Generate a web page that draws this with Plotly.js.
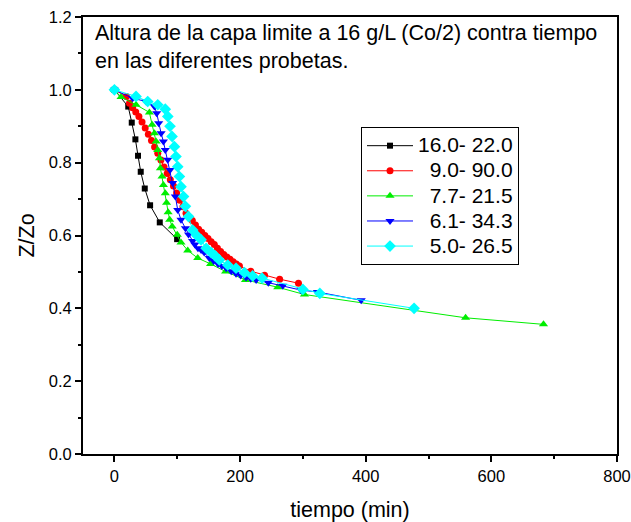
<!DOCTYPE html>
<html>
<head>
<meta charset="utf-8">
<script src="https://cdn.plot.ly/plotly-3.0.1.min.js"></script>
<style>html,body{margin:0;padding:0;background:#fff;}#chart{width:631px;height:522px;}</style>
</head>
<body>
<div id="chart"></div>
<script>
// Series names
const seriesNames = ["16.0- 22.0", "9.0- 90.0", "7.7- 21.5", "6.1- 34.3", "5.0- 26.5"];

// 16.0- 22.0 (black squares)
const tBlack = [0, 22, 27.6, 33.4, 37.6, 41.9, 48.3, 56.8, 72.2, 99.8];
const zBlack = [1.0, 0.954, 0.910, 0.864, 0.819, 0.775, 0.729, 0.683, 0.636, 0.590];

// 9.0- 90.0 (red circles)
const tRed = [0, 19, 24, 29, 34, 39, 44, 49, 54, 59, 64, 69, 74, 79, 84, 89, 94, 99, 104, 109, 114, 119, 124, 129, 134, 139, 144, 149, 154, 159, 164, 169, 174, 179, 184, 189, 194, 199, 217, 239, 263, 293];
const zRed = [1.0, 0.982, 0.963, 0.951, 0.939, 0.927, 0.912, 0.895, 0.878, 0.861, 0.843, 0.826, 0.807, 0.788, 0.770, 0.753, 0.736, 0.717, 0.697, 0.679, 0.661, 0.651, 0.641, 0.629, 0.617, 0.609, 0.600, 0.592, 0.583, 0.575, 0.565, 0.556, 0.548, 0.541, 0.535, 0.528, 0.522, 0.516, 0.502, 0.491, 0.480, 0.469];

// 7.7- 21.5 (green triangles up)
const tGreen = [0, 10.6, 34.4, 55.7, 60, 63.7, 66.4, 69, 71.7, 73.2, 75.8, 78, 81, 83, 85.5, 88, 92, 100, 106, 116.7, 132.6, 153, 177, 208.6, 260, 302.5, 559, 683];
const zGreen = [1.0, 0.980, 0.959, 0.938, 0.904, 0.881, 0.858, 0.835, 0.812, 0.785, 0.762, 0.739, 0.716, 0.690, 0.664, 0.643, 0.625, 0.602, 0.581, 0.559, 0.538, 0.522, 0.501, 0.478, 0.458, 0.438, 0.374, 0.356];

// 6.1- 34.3 (blue triangles down)
const tBlue = [0, 29, 50.4, 63.7, 67.3, 70.5, 74.3, 78, 81, 84.9, 88.5, 92.7, 97, 100.8, 106, 113, 118, 124.5, 128, 133, 138, 143, 151, 158, 165, 171, 178, 186, 193.6, 201, 209.6, 217, 225.6, 245, 268, 297, 323, 392.8];
const zBlue = [1.0, 0.977, 0.968, 0.954, 0.936, 0.908, 0.881, 0.858, 0.835, 0.808, 0.780, 0.744, 0.707, 0.670, 0.643, 0.620, 0.603, 0.585, 0.575, 0.565, 0.560, 0.553, 0.538, 0.530, 0.522, 0.516, 0.510, 0.502, 0.495, 0.490, 0.485, 0.481, 0.478, 0.470, 0.462, 0.450, 0.445, 0.422];

// 5.0- 26.5 (cyan diamonds)
const tCyan = [0, 34.4, 53, 69, 81, 85, 88.5, 91.7, 95.5, 98, 100.8, 103.5, 106, 110, 113, 118, 124.5, 131, 138, 146, 154, 160, 167, 180.4, 193.6, 207, 220, 235, 300, 327, 477];
const zCyan = [1.0, 0.982, 0.968, 0.959, 0.947, 0.927, 0.900, 0.872, 0.844, 0.817, 0.789, 0.762, 0.734, 0.707, 0.680, 0.652, 0.615, 0.600, 0.588, 0.565, 0.553, 0.545, 0.533, 0.519, 0.510, 0.498, 0.489, 0.483, 0.452, 0.441, 0.400];

const titleLines = ["Altura de la capa limite a 16 g/L (Co/2) contra tiempo", "en las diferentes probetas."];

const FONT = "Liberation Sans, Arial, Helvetica, sans-serif";
const NB = "\u00a0\u00a0";
function lab(s, pad) { return '<span style="font-size:21px">' + (pad ? NB : "") + s + '</span>'; }
const legendLabels = [lab(seriesNames[0], false), lab(seriesNames[1], true), lab(seriesNames[2], true), lab(seriesNames[3], true), lab(seriesNames[4], true)];

function tr(x, y, name, color, symbol, size) {
  return {
    x: x, y: y, name: name, type: "scatter", mode: "lines+markers",
    line: {color: color, width: 1},
    marker: {color: color, symbol: symbol, size: size, line: {width: 0}}
  };
}

const data = [
  tr(tBlack, zBlack, legendLabels[0], "#000000", "square", 6),
  tr(tRed, zRed, legendLabels[1], "#ff0000", "circle", 7),
  tr(tGreen, zGreen, legendLabels[2], "#00ee00", "triangle-up", 8),
  tr(tBlue, zBlue, legendLabels[3], "#0000ff", "triangle-down", 8),
  tr(tCyan, zCyan, legendLabels[4], "#00ffff", "diamond", 9)
];

const axisCommon = {
  showgrid: false, zeroline: false,
  showline: true, linecolor: "#000", linewidth: 2, mirror: true,
  ticks: "outside", ticklen: 6, tickwidth: 2, tickcolor: "#000",
  tickfont: {family: FONT, size: 16.5, color: "#000"}
};

const layout = {
  width: 631, height: 522,
  margin: {l: 83, r: 14, t: 17, b: 68},
  paper_bgcolor: "#fff", plot_bgcolor: "#fff",
  font: {family: FONT, color: "#000"},
  showlegend: true,
  xaxis: Object.assign({}, axisCommon, {
    range: [-50, 800], tick0: 0, dtick: 200,
    minor: {dtick: 100, tick0: 0, ticks: "outside", ticklen: 3, tickwidth: 2, tickcolor: "#000"},
    title: {text: "tiempo (min)", font: {family: FONT, size: 21.5, color: "#000"}, standoff: 18}
  }),
  yaxis: Object.assign({}, axisCommon, {
    range: [0, 1.2], tick0: 0, dtick: 0.2, tickformat: ".1f",
    minor: {dtick: 0.1, tick0: 0, ticks: "outside", ticklen: 3, tickwidth: 2, tickcolor: "#000"},
    title: {text: "Z/Zo", font: {family: FONT, size: 21.5, color: "#000"}, standoff: 8}
  }),
  legend: {
    x: 0.5206, y: 0.748, xanchor: "left", yanchor: "top",
    bgcolor: "#fff", bordercolor: "#000", borderwidth: 1,
    font: {family: FONT, size: 17, color: "#000"},
    itemwidth: 46, tracegroupgap: 0
  },
  annotations: [{
    xref: "paper", yref: "paper", x: 0.02, y: 0.992, xanchor: "left", yanchor: "top",
    align: "left", showarrow: false, borderpad: 0,
    text: titleLines.join("<br>"),
    font: {family: FONT, size: 21.5, color: "#000"}
  }]
};

Plotly.newPlot("chart", data, layout, {displayModeBar: false, staticPlot: true});
</script>
</body>
</html>
